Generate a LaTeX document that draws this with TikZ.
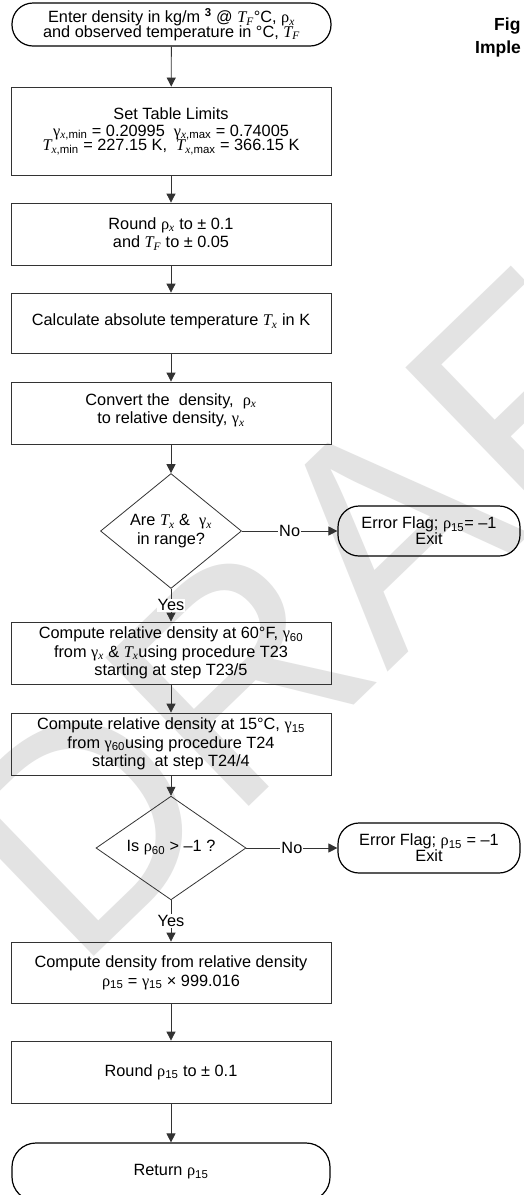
\documentclass[tikz,border=0pt]{standalone}
\usepackage{fontspec}
\setmainfont{Liberation Sans}
\newfontfamily\tms{Liberation Serif}
\usetikzlibrary{shapes.geometric,arrows.meta}
\newcommand\vr[1]{{\tms\itshape #1}}
\newcommand\grk[1]{{\tms #1}}
\newcommand\sbs[1]{\textsubscript{#1}}
\begin{document}
\begin{tikzpicture}[x=1pt,y=-1pt,
  box/.style={draw=black!80, line width=0.8pt, minimum width=320pt, inner sep=0pt,
    align=center, font=\fontsize{16.3}{18.7}\selectfont},
  term/.style={box, rounded corners=21pt, line width=1.2pt, draw=black},
  dec/.style={diamond, draw=black!80, line width=0.8pt, inner sep=0pt, align=center,
    font=\fontsize{16.3}{18.5}\selectfont},
  arr/.style={-{Triangle[length=9pt,width=9pt]}, line width=0.8pt, draw=black!80},
  lbl/.style={fill=white, inner sep=1pt, font=\fontsize{16.3}{18}\selectfont},
  title/.style={font=\fontsize{17.5}{20}\selectfont\bfseries, anchor=base west, inner sep=0pt}]
\useasboundingbox (0,0) rectangle (523,1195);
\clip (0,0) rectangle (523,1195);
\fill[white] (0,0) rectangle (523,1195);
% watermark
\node[rotate=44, text=black!11, inner sep=0pt, font=\fontsize{300}{300}\selectfont] (wm) at (364,552) {DRAFT};
% title fragments
\node[title] (t1) at (494,30) {Fig};
\node[title] (t2) at (475,53) {Imple};
% nodes
\node[term, minimum width=319pt, minimum height=43pt] (start) at (171.5,24.5)
  {Enter density in kg/m \textsuperscript{\textbf{3}} @ \vr{T}\sbs{\vr{F}}°C, \grk{ρ}\sbs{\vr{x}}\\[-4.2pt]
   and observed temperature in °C, \vr{T}\sbs{\vr{F}}};
\node[box, minimum height=88pt] (lim) at (171,131)
  {Set Table Limits\\[-1.7pt]
   \grk{γ}\sbs{\vr{x},min} = 0.20995~~\grk{γ}\sbs{\vr{x},max} = 0.74005\\[-4.2pt]
   \vr{T}\sbs{\vr{x},min} = 227.15 K,~~\vr{T}\sbs{\vr{x},max} = 366.15 K};
\node[box, minimum height=62pt] (rnd) at (171,234)
  {Round \grk{ρ}\sbs{\vr{x}} to ± 0.1\\ and \vr{T}\sbs{\vr{F}} to ± 0.05};
\node[box, minimum height=60pt] (abs) at (171,323)
  {Calculate absolute temperature \vr{T}\sbs{\vr{x}} in K\\[-12pt]\mbox{}};
\node[box, minimum height=62pt] (conv) at (171,413)
  {Convert the~ density,~ \grk{ρ}\sbs{\vr{x}}\\ to relative density, \grk{γ}\sbs{\vr{x}}\\[-10pt]\mbox{}};
\node[dec, minimum width=141pt, minimum height=103pt] (d1) at (171,531)
  {Are \vr{T}\sbs{\vr{x}} \&~ \grk{γ}\sbs{\vr{x}}\\ in range?};
\node[term, minimum width=182pt, minimum height=50pt] (e1) at (429,531)
  {Error Flag; \grk{ρ}\sbs{15}= –1\\[-2.5pt] Exit};
\node[box, minimum height=62pt] (c60) at (171,653)
  {Compute relative density at 60°F, \grk{γ}\sbs{60}\\
   from \grk{γ}\sbs{\vr{x}} \& \vr{T}\sbs{\vr{x}}using procedure T23\\
   starting at step T23/5};
\node[box, minimum height=62pt] (c15) at (171,744)
  {Compute relative density at 15°C, \grk{γ}\sbs{15}\\
   from \grk{γ}\sbs{60}using procedure T24\\
   starting~ at step T24/4};
\node[dec, minimum width=150pt, minimum height=70pt] (d2) at (171,848)
  {Is \grk{ρ}\sbs{60} > –1 ?};
\node[term, minimum width=182pt, minimum height=50pt] (e2) at (429,848)
  {Error Flag; \grk{ρ}\sbs{15} = –1\\[-2.5pt] Exit};
\node[box, minimum height=61pt] (dens) at (171,972.5)
  {Compute density from relative density\\
   \grk{ρ}\sbs{15} = \grk{γ}\sbs{15} × 999.016};
\node[box, minimum height=62pt] (rnd2) at (171,1072)
  {Round \grk{ρ}\sbs{15} to ± 0.1};
\node[term, minimum width=318pt, minimum height=58pt, rounded corners=24pt] (ret) at (171,1172)
  {Return \grk{ρ}\sbs{15}};
% connectors
\draw[arr] (start) -- (lim);
\draw[arr] (lim) -- (rnd);
\draw[arr] (rnd) -- (abs);
\draw[arr] (abs) -- (conv);
\draw[arr] (conv) -- (d1);
\draw[arr] (d1.east) -- node[lbl] {No} (e1.west);
\draw[arr] (d1.south) -- node[lbl] {Yes} (c60.north);
\draw[arr] (c60) -- (c15);
\draw[arr] (c15) -- (d2);
\draw[arr] (d2.east) -- node[lbl] {No} (e2.west);
\draw[arr] (d2.south) -- node[lbl] {Yes} (dens.north);
\draw[arr] (dens) -- (rnd2);
\draw[arr] (rnd2) -- (ret);
\end{tikzpicture}
\end{document}
